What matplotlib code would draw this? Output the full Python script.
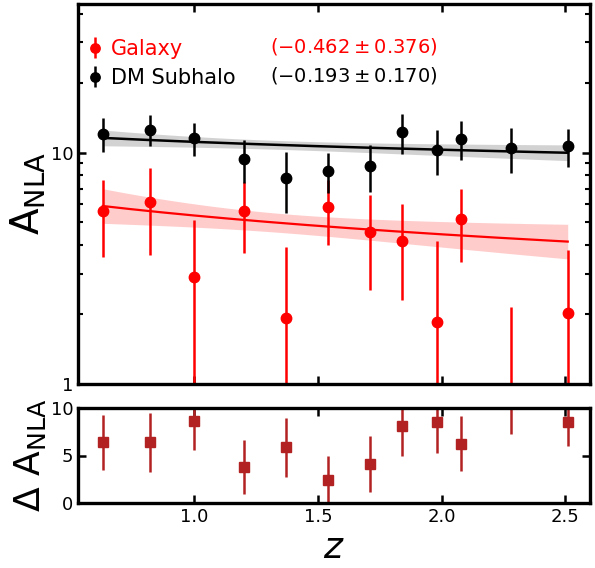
import numpy as np
import matplotlib
matplotlib.use("Agg")
import matplotlib.pyplot as plt

# ---------------- data ----------------
z = [0.63, 0.82, 1.00, 1.20, 1.37, 1.54, 1.71, 1.84, 1.98, 2.08, 2.28, 2.51]
gal = [5.6, 6.1, 2.9, 5.6, 1.93, 5.8, 4.56, 4.15, 1.86, 5.16, 0.3, 2.03]
gal_err = [2.05, 2.5, 2.2, 1.9, 2.0, 1.8, 2.0, 1.85, 2.3, 1.8, 1.85, 1.76]
dm = [12.1, 12.6, 11.6, 9.4, 7.78, 8.32, 8.8, 12.3, 10.3, 11.5, 10.5, 10.65]
dm_err = [2.0, 1.95, 1.9, 2.0, 2.3, 1.65, 2.0, 2.4, 2.25, 2.2, 2.3, 2.0]
delta = [6.4, 6.4, 8.6, 3.8, 5.86, 2.46, 4.14, 8.07, 8.53, 6.25, 10.6, 8.56]
delta_err = [2.9, 3.1, 3.0, 2.8, 3.1, 2.45, 2.95, 3.15, 3.3, 2.9, 3.3, 2.6]

# power-law fits A = A_p * ((1+z)/(1+z_p))**eta
z_pivot = 1.392
gal_fit = dict(A=4.93, sigA_dex=0.041, eta=-0.462, eta_err=0.376)
dm_fit = dict(A=10.77, sigA_dex=0.019, eta=-0.193, eta_err=0.170)

labels = ["Galaxy", "DM Subhalo"]
fit_labels = [r"$(-0.462\pm0.376)$", r"$(-0.193\pm0.170)$"]
xticks = [1.0, 1.5, 2.0, 2.5]

# ---------------- figure ----------------
W, H = 595, 568
fig = plt.figure(figsize=(W / 100, H / 100), dpi=100)
axL, axR = 78 / W, 590 / W
ax = fig.add_axes([axL, 1 - 384 / H, axR - axL, 380 / H])
ax2 = fig.add_axes([axL, 1 - 503 / H, axR - axL, 95 / H], sharex=ax)

FS = 13
LFS = 15
for a in (ax, ax2):
    for s in a.spines.values():
        s.set_linewidth(2.4)
    a.tick_params(which="both", direction="in", top=True, right=True,
                  labelsize=FS, width=1.8)
    a.tick_params(which="major", length=6)
    a.tick_params(which="minor", length=3.5, width=1.5)

zf = np.linspace(z[0], z[-1], 200)


def model(fit, zz):
    x = np.log10((1 + zz) / (1 + z_pivot))
    logA = np.log10(fit["A"]) + fit["eta"] * x
    sig = np.sqrt(fit["sigA_dex"] ** 2 + (fit["eta_err"] * x) ** 2)
    return 10 ** logA, 10 ** (logA - sig), 10 ** (logA + sig)


m, lo, hi = model(gal_fit, zf)
ax.fill_between(zf, lo, hi, color="red", alpha=0.2, lw=0)
ax.plot(zf, m, color="red", lw=1.6)
m2, lo2, hi2 = model(dm_fit, zf)
ax.fill_between(zf, lo2, hi2, color="gray", alpha=0.35, lw=0)
ax.plot(zf, m2, color="black", lw=1.8)

h1 = ax.errorbar(z, gal, yerr=gal_err, fmt="o", color="red", ms=7.5,
                 elinewidth=1.8, capsize=0, label=labels[0])
h2 = ax.errorbar(z, dm, yerr=dm_err, fmt="o", color="black", ms=7.5,
                 elinewidth=1.8, capsize=0, label=labels[1])

ax.set_yscale("log")
ax.set_ylim(1, 44)
ax.set_xlim(0.53, 2.6)
ax.set_yticks([1, 10])
ax.set_yticklabels(["1", "10"])
ax.yaxis.set_minor_formatter(matplotlib.ticker.NullFormatter())
ax.set_xticks(xticks)
ax.tick_params(labelbottom=False)
ax.set_ylabel(r"$\mathrm{A}_{\mathrm{NLA}}$", fontsize=28, labelpad=2)

leg = ax.legend(handles=[h1, h2], loc="upper left", frameon=False,
                fontsize=LFS, handlelength=0.7, handletextpad=0.4,
                bbox_to_anchor=(-0.017, 0.957), labelspacing=0.42,
                markerscale=0.9)
for t, c in zip(leg.get_texts(), ["red", "black"]):
    t.set_color(c)
ax.text(0.375, 0.889, fit_labels[0], transform=ax.transAxes, color="red",
        fontsize=14, va="center", ha="left")
ax.text(0.375, 0.812, fit_labels[1], transform=ax.transAxes, color="black",
        fontsize=14, va="center", ha="left")

ax2.errorbar(z, delta, yerr=delta_err, fmt="s", color="firebrick", ms=7,
             elinewidth=1.8, capsize=0)
ax2.set_ylim(0, 10)
ax2.set_yticks([0, 5, 10])
ax2.set_xticks(xticks)
ax2.set_xticklabels(["1.0", "1.5", "2.0", "2.5"])
ax2.set_ylabel(r"$\Delta\ \mathrm{A}_{\mathrm{NLA}}$", fontsize=26, labelpad=2)
ax2.set_xlabel(r"$z$", fontsize=26, labelpad=4)

fig.savefig("out.png", dpi=100)
